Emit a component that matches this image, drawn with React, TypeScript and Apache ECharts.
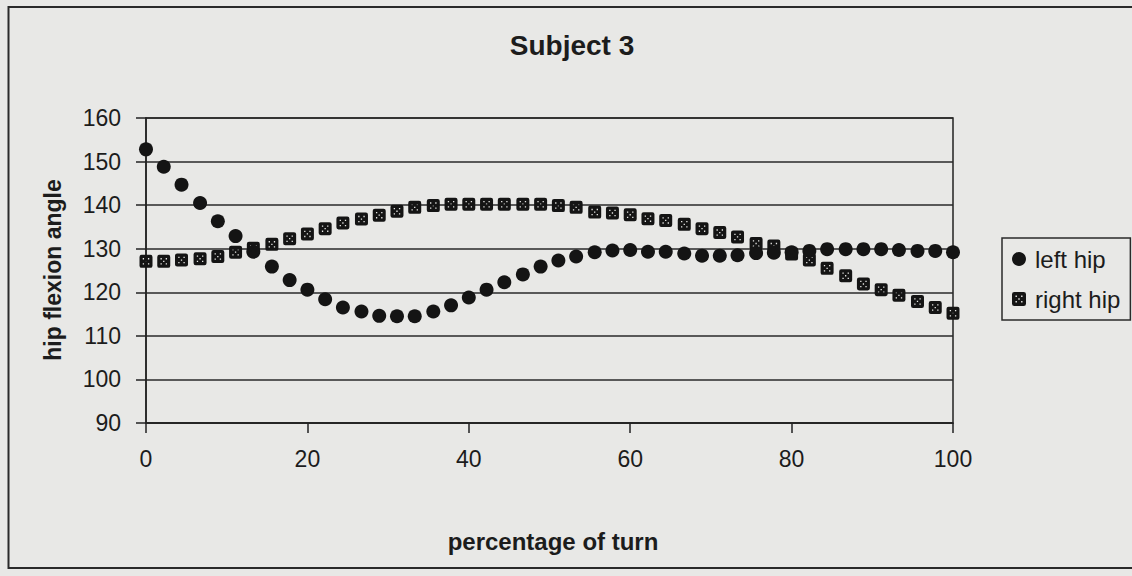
import React, { useEffect, useRef } from "react";
import * as echarts from "echarts";

const turnPct = [
  0, 2.2, 4.4, 6.7, 8.9, 11.1, 13.3, 15.6, 17.8, 20.0, 22.2, 24.4, 26.7, 28.9, 31.1, 33.3,
  35.6, 37.8, 40.0, 42.2, 44.4, 46.7, 48.9, 51.1, 53.3, 55.6, 57.8, 60.0, 62.2, 64.4, 66.7,
  68.9, 71.1, 73.3, 75.6, 77.8, 80.0, 82.2, 84.4, 86.7, 88.9, 91.1, 93.3, 95.6, 97.8, 100,
];

const leftHip = [
  152.8, 148.8, 144.7, 140.5, 136.3, 132.9, 129.3, 125.9, 122.8, 120.6, 118.4, 116.5, 115.6,
  114.6, 114.5, 114.5, 115.6, 117.0, 118.8, 120.6, 122.3, 124.1, 125.9, 127.3, 128.2, 129.2,
  129.6, 129.7, 129.3, 129.3, 128.9, 128.4, 128.4, 128.5, 129.0, 129.1, 129.2, 129.5, 129.9,
  129.9, 129.9, 129.9, 129.7, 129.5, 129.5, 129.2,
];

const rightHip = [
  127.1, 127.1, 127.4, 127.7, 128.2, 129.2, 130.1, 131.0, 132.3, 133.4, 134.6, 135.9, 136.8,
  137.7, 138.6, 139.5, 139.9, 140.2, 140.2, 140.2, 140.2, 140.2, 140.2, 139.9, 139.5, 138.4,
  138.2, 137.8, 136.9, 136.5, 135.6, 134.6, 133.7, 132.7, 131.2, 130.6, 128.8, 127.4, 125.5,
  123.8, 121.9, 120.6, 119.3, 117.9, 116.5, 115.2,
];

const yTicks = { min: 90, max: 160, interval: 10 };
const xTicks = { min: 0, max: 100, interval: 20 };

const TITLE = "Subject 3";
const X_NAME = "percentage of turn";
const Y_NAME = "hip flexion angle";
const SERIES_NAMES = ["left hip", "right hip"];

const SQUARE_ICON =
  "path://M2,0 H10 Q12,0 12,2 V10 Q12,12 10,12 H2 Q0,12 0,10 V2 Q0,0 2,0 Z " +
  "M3.0,3.0 V4.2 H4.2 V3.0 Z " +
  "M7.8,3.0 V4.2 H9.0 V3.0 Z " +
  "M5.4,5.4 V6.6 H6.6 V5.4 Z " +
  "M3.0,7.8 V9.0 H4.2 V7.8 Z " +
  "M7.8,7.8 V9.0 H9.0 V7.8 Z";

const FONT = "'Liberation Sans', Arial, sans-serif";
const INK = "#1c1c1c";
const MARK = "#141414";
const BG = "#e8e8e6";

export default function App() {
  const ref = useRef<HTMLDivElement>(null);

  useEffect(() => {
    if (!ref.current) return;
    const chart = echarts.init(ref.current, undefined, { renderer: "svg" });
    const leftData = turnPct.map((x, i) => [x, leftHip[i]]);
    const rightData = turnPct.map((x, i) => [x, rightHip[i]]);

    chart.setOption({
      animation: false,
      backgroundColor: BG,
      textStyle: { fontFamily: FONT, color: INK },
      grid: {
        left: 146,
        right: 179,
        top: 118,
        bottom: 153,
        show: true,
        borderColor: "#222",
        borderWidth: 1.5,
        backgroundColor: "transparent",
      },
      xAxis: {
        type: "value",
        min: xTicks.min,
        max: xTicks.max,
        interval: xTicks.interval,
        axisLine: { show: true, onZero: false, lineStyle: { color: "#222", width: 1.5 } },
        axisTick: { show: true, inside: false, length: 10, lineStyle: { color: "#222", width: 1.5 } },
        axisLabel: { fontSize: 23, color: INK, margin: 24, fontFamily: FONT },
        splitLine: { show: false },
      },
      yAxis: {
        type: "value",
        min: yTicks.min,
        max: yTicks.max,
        interval: yTicks.interval,
        axisLine: { show: true, lineStyle: { color: "#222", width: 1.5 } },
        axisTick: { show: true, inside: false, length: 10, lineStyle: { color: "#222", width: 1.5 } },
        axisLabel: { fontSize: 23, color: INK, margin: 25, fontFamily: FONT },
        splitLine: { show: true, lineStyle: { color: "#2a2a2a", width: 1.5 } },
      },
      legend: {
        orient: "vertical",
        left: 1002,
        top: 238,
        padding: [9, 10, 9, 10],
        itemGap: 16,
        itemWidth: 14,
        itemHeight: 14,
        borderColor: "#2a2a2a",
        borderWidth: 1.5,
        backgroundColor: "transparent",
        textStyle: { fontSize: 24, color: INK, fontFamily: FONT, padding: [0, 0, 0, 4] },
        data: [
          { name: SERIES_NAMES[0], icon: "circle" },
          { name: SERIES_NAMES[1], icon: SQUARE_ICON },
        ],
      },
      graphic: [
        {
          type: "rect",
          shape: { x: 8.5, y: 7, width: 1140, height: 561 },
          style: { fill: "none", stroke: "#2a2a2a", lineWidth: 2 },
          silent: true,
        },
        {
          type: "text",
          x: 572,
          y: 45,
          style: {
            text: TITLE,
            fill: INK,
            font: `bold 28px ${FONT}`,
            textAlign: "center",
            textVerticalAlign: "middle",
          },
        },
        {
          type: "text",
          x: 553,
          y: 541,
          style: {
            text: X_NAME,
            fill: INK,
            font: `bold 24px ${FONT}`,
            textAlign: "center",
            textVerticalAlign: "middle",
          },
        },
        {
          type: "text",
          x: 53,
          y: 270,
          rotation: Math.PI / 2,
          style: {
            text: Y_NAME,
            fill: INK,
            font: `bold 23px ${FONT}`,
            textAlign: "center",
            textVerticalAlign: "middle",
          },
        },
      ],
      series: [
        {
          name: SERIES_NAMES[0],
          type: "scatter",
          data: leftData,
          symbol: "circle",
          symbolSize: 14,
          itemStyle: { color: MARK, opacity: 1 },
          z: 2,
        },
        {
          name: SERIES_NAMES[1],
          type: "scatter",
          data: rightData,
          symbol: SQUARE_ICON,
          symbolSize: 13,
          itemStyle: { color: MARK, opacity: 1 },
          z: 3,
        },
      ],
    });
    return () => chart.dispose();
  }, []);

  return (
    <div
      ref={ref}
      style={{ position: "fixed", left: 0, top: 0, width: 1132, height: 576, background: BG }}
    />
  );
}
